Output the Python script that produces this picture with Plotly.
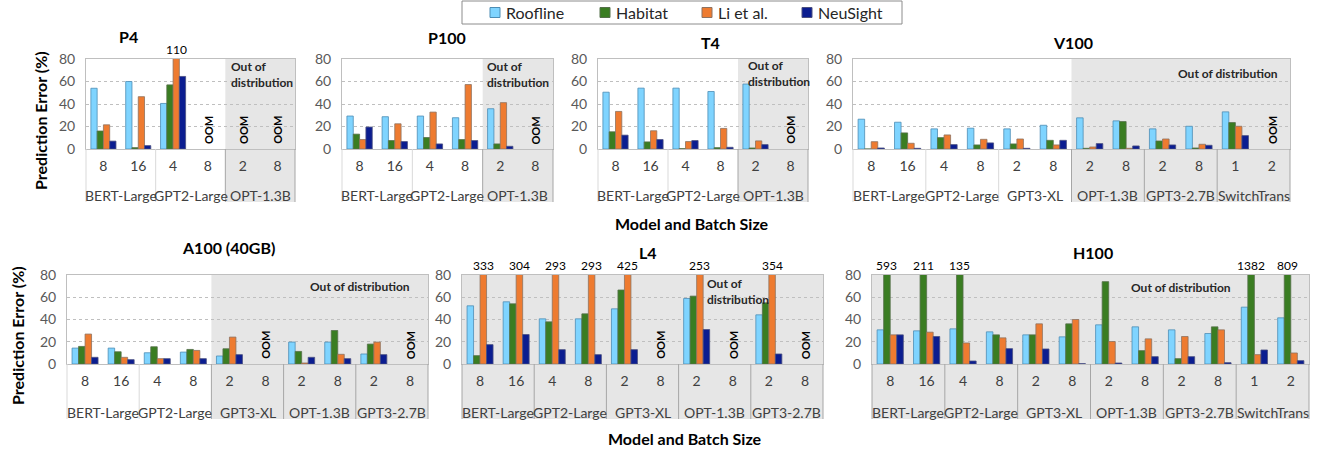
import plotly.graph_objects as go

W, H = 1322, 450
FONT = "Lato"

SERIES = ["Roofline", "Habitat", "Li et al.", "NeuSight"]
COLORS = ["#7FD4FF", "#3A7D22", "#EE7B30", "#0B1D90"]
EDGES = ["#4C8DB5", "#55704A", "#8E7260", "#4A4F80"]

# ---------------- data ----------------
p4_models = ["BERT-Large", "BERT-Large", "GPT2-Large", "GPT2-Large", "OPT-1.3B", "OPT-1.3B"]
p4_batches = ["8", "16", "4", "8", "2", "8"]
p4_roofline = [54, 60, 40.5, None, None, None]
p4_habitat = [16, 1.2, 57, None, None, None]
p4_li = [21.5, 46.5, 110, None, None, None]
p4_neusight = [7, 3, 64.5, None, None, None]

p100_models = ["BERT-Large", "BERT-Large", "GPT2-Large", "GPT2-Large", "OPT-1.3B", "OPT-1.3B"]
p100_batches = ["8", "16", "4", "8", "2", "8"]
p100_roofline = [29.3, 28.7, 29.3, 27.8, 35.8, None]
p100_habitat = [13.2, 7.5, 10.2, 8.4, 4.5, None]
p100_li = [8.4, 22.4, 32.8, 57.3, 41.2, None]
p100_neusight = [19.5, 6.6, 4.5, 7.5, 2.4, None]

t4_models = ["BERT-Large", "BERT-Large", "GPT2-Large", "GPT2-Large", "OPT-1.3B", "OPT-1.3B"]
t4_batches = ["8", "16", "4", "8", "2", "8"]
t4_roofline = [50.5, 54.1, 54.1, 51.1, 57.7, None]
t4_habitat = [15.3, 6.3, 0.3, 1.2, 0.9, None]
t4_li = [33.4, 16.2, 6.6, 18.3, 7.2, None]
t4_neusight = [12.3, 8.4, 7.5, 1.5, 3.9, None]

v100_models = ["BERT-Large", "BERT-Large", "GPT2-Large", "GPT2-Large", "GPT3-XL", "GPT3-XL",
               "OPT-1.3B", "OPT-1.3B", "GPT3-2.7B", "GPT3-2.7B", "SwitchTrans", "SwitchTrans"]
v100_batches = ["8", "16", "4", "8", "2", "8", "2", "8", "2", "8", "1", "2"]
v100_roofline = [26.5, 23.8, 17.9, 18.5, 17.9, 21.1, 27.7, 25.0, 17.9, 20.2, 33.0, None]
v100_habitat = [0, 14.3, 10.1, 3.6, 4.5, 7.7, 0.6, 24.4, 7.1, 0.9, 23.5, None]
v100_li = [6.5, 5.1, 12.5, 8.6, 8.9, 3.6, 1.8, 0.6, 8.9, 4.2, 20.2, None]
v100_neusight = [0.9, 0.6, 3.9, 5.4, 0.6, 7.7, 4.8, 2.7, 3.6, 3.3, 11.9, None]

a100_models = ["BERT-Large", "BERT-Large", "GPT2-Large", "GPT2-Large", "GPT3-XL", "GPT3-XL",
               "OPT-1.3B", "OPT-1.3B", "GPT3-2.7B", "GPT3-2.7B"]
a100_batches = ["8", "16", "4", "8", "2", "8", "2", "8", "2", "8"]
a100_roofline = [14.3, 14.3, 10.1, 10.7, 7.2, None, 19.7, 19.7, 9.0, None]
a100_habitat = [15.8, 11.0, 15.5, 13.1, 13.7, None, 11.3, 30.1, 17.9, None]
a100_li = [26.9, 6.0, 4.8, 12.2, 24.2, None, 0.9, 8.7, 19.7, None]
a100_neusight = [6.0, 3.9, 4.8, 4.8, 8.4, None, 6.0, 4.8, 8.4, None]

l4_models = ["BERT-Large", "BERT-Large", "GPT2-Large", "GPT2-Large", "GPT3-XL", "GPT3-XL",
             "OPT-1.3B", "OPT-1.3B", "GPT3-2.7B", "GPT3-2.7B"]
l4_batches = ["8", "16", "4", "8", "2", "8", "2", "8", "2", "8"]
l4_roofline = [52.3, 55.9, 40.6, 40.6, 49.6, None, 58.9, None, 44.2, None]
l4_habitat = [7.5, 54.1, 37.9, 45.1, 66.5, None, 61.0, None, 55.0, None]
l4_li = [333, 304, 293, 293, 425, None, 253, None, 354, None]
l4_neusight = [17.4, 26.5, 12.9, 8.4, 12.9, None, 31.0, None, 9.0, None]

h100_models = ["BERT-Large", "BERT-Large", "GPT2-Large", "GPT2-Large", "GPT3-XL", "GPT3-XL",
               "OPT-1.3B", "OPT-1.3B", "GPT3-2.7B", "GPT3-2.7B", "SwitchTrans", "SwitchTrans"]
h100_batches = ["8", "16", "4", "8", "2", "8", "2", "8", "2", "8", "1", "2"]
h100_roofline = [30.7, 29.8, 31.6, 28.9, 26.2, 24.4, 35.2, 33.4, 30.7, 27.4, 51.1, 41.5]
h100_habitat = [593, 211, 135, 26.2, 26.2, 36.1, 74.0, 12.0, 4.8, 33.4, 1382, 809]
h100_li = [26.2, 28.6, 18.9, 23.5, 36.1, 40.0, 20.2, 22.6, 24.7, 30.7, 8.4, 9.9]
h100_neusight = [26.2, 24.7, 2.7, 13.8, 13.5, 0.3, 0.9, 6.6, 6.6, 1.2, 12.6, 3.0]

Y_MAX = 80
Y_TICKS = [0, 20, 40, 60, 80]

# ---------------- layout specs ----------------
ROWS = [
    dict(top=59, bot=149, cat_bot=202, model_y=196),
    dict(top=275, bot=364, cat_bot=419, model_y=412),
]

panels = [
    dict(title="P4", models=p4_models, batches=p4_batches,
         vals=[p4_roofline, p4_habitat, p4_li, p4_neusight], ood=4,
         x0=86, x1=295, row=0, tpos=(128, 37),
         otext="Out of<br>distribution", opos=(229, 75), oanchor="left"),
    dict(title="P100", models=p100_models, batches=p100_batches,
         vals=[p100_roofline, p100_habitat, p100_li, p100_neusight], ood=4,
         x0=342, x1=553, row=0, tpos=(447, 38),
         otext="Out of<br>distribution", opos=(485, 75), oanchor="left"),
    dict(title="T4", models=t4_models, batches=t4_batches,
         vals=[t4_roofline, t4_habitat, t4_li, t4_neusight], ood=4,
         x0=598, x1=808, row=0, tpos=(710, 42),
         otext="Out of<br>distribution", opos=(746, 73), oanchor="left"),
    dict(title="V100", models=v100_models, batches=v100_batches,
         vals=[v100_roofline, v100_habitat, v100_li, v100_neusight], ood=6,
         x0=853, x1=1290, row=0, tpos=(1073, 42),
         otext="Out of distribution", opos=(1280, 73), oanchor="right"),
    dict(title="A100 (40GB)", models=a100_models, batches=a100_batches,
         vals=[a100_roofline, a100_habitat, a100_li, a100_neusight], ood=4,
         x0=67, x1=428, row=1, tpos=(228, 247),
         otext="Out of distribution", opos=(412, 286), oanchor="right"),
    dict(title="L4", models=l4_models, batches=l4_batches,
         vals=[l4_roofline, l4_habitat, l4_li, l4_neusight], ood=0,
         x0=462, x1=823, row=1, tpos=(648, 252),
         otext="Out of<br>distribution", opos=(705, 291), oanchor="left"),
    dict(title="H100", models=h100_models, batches=h100_batches,
         vals=[h100_roofline, h100_habitat, h100_li, h100_neusight], ood=0,
         x0=872, x1=1309, row=1, tpos=(1093, 252),
         otext="Out of distribution", opos=(1233, 287), oanchor="right"),
]

BARGAP = 0.28
SHADE = "#E6E6E6"
LEGEND_BOX = (462, 902, 1, 24)
LEGEND_SWATCH_X = [490, 600, 702, 802]


def px(x):
    return x / W


def py(y):
    return 1 - y / H


fig = go.Figure()
annotations = []
shapes = []
layout_axes = {}

for pi, p in enumerate(panels):
    k = pi + 1
    xs = "" if k == 1 else str(k)
    xname, yname = "x" + xs, "y" + xs
    row = ROWS[p["row"]]
    n = len(p["batches"])
    pos = list(range(n))
    plot_h = row["bot"] - row["top"]
    cat_frac = (row["cat_bot"] - row["bot"]) / plot_h

    for si, sname in enumerate(SERIES):
        fig.add_trace(go.Bar(
            x=pos, y=p["vals"][si], name=sname, xaxis=xname, yaxis=yname,
            marker=dict(color=COLORS[si], line=dict(color=EDGES[si], width=0.8)),
            showlegend=False, legendgroup=sname, hoverinfo="skip",
        ))

    layout_axes["xaxis" + xs] = dict(
        domain=[px(p["x0"]), px(p["x1"])], anchor=yname,
        range=[-0.5, n - 0.5], tickmode="array", tickvals=pos, ticktext=p["batches"],
        showgrid=False, zeroline=False, ticks="", showline=True, mirror=True,
        linecolor="#BFBFBF", linewidth=1, ticklabelstandoff=4, automargin=False,
        tickfont=dict(family=FONT, size=14, color="#404040"), fixedrange=True,
    )
    layout_axes["yaxis" + xs] = dict(
        domain=[py(row["bot"]), py(row["top"])], anchor=xname,
        range=[0, Y_MAX], tickmode="array", tickvals=Y_TICKS,
        showgrid=True, gridcolor="#BFBFBF", griddash="dot", gridwidth=1,
        zeroline=False, ticks="", showline=True, mirror=True,
        linecolor="#BFBFBF", linewidth=1, ticklabelstandoff=7, automargin=False,
        tickfont=dict(family=FONT, size=14, color="#595959"), fixedrange=True,
    )

    xd, yd = xname + " domain", yname + " domain"

    # out-of-distribution shading
    shapes.append(dict(type="rect", xref=xd, yref=yd, x0=p["ood"] / n, x1=1,
                       y0=-cat_frac, y1=1, fillcolor=SHADE, line=dict(width=0),
                       layer="below"))

    # group dividers + model labels
    bounds = [0] + [i for i in range(1, n) if p["models"][i] != p["models"][i - 1]] + [n]
    for b in bounds:
        col = "#A6A6A6" if b >= p["ood"] and p["ood"] < n else "#D9D9D9"
        shapes.append(dict(type="line", xref=xd, yref=yd, x0=b / n, x1=b / n,
                           y0=0, y1=-cat_frac, line=dict(color=col, width=1)))
    for a, b in zip(bounds[:-1], bounds[1:]):
        annotations.append(dict(
            x=(a + b - 1) / 2, xref=xname, y=py(row["model_y"]), yref="paper",
            text=p["models"][a], showarrow=False, xanchor="center", yanchor="middle",
            font=dict(family=FONT, size=14, color="#404040")))

    # OOM markers and clipped-value labels
    bw = (1 - BARGAP) / len(SERIES)
    for i in range(n):
        if all(v[i] is None for v in p["vals"]):
            annotations.append(dict(
                x=i, xref=xname, y=2.5, yref=yname, text="<b>OOM</b>", textangle=-90,
                showarrow=False, xanchor="center", yanchor="bottom",
                font=dict(family=FONT, size=11, color="#000000")))
        for si in range(len(SERIES)):
            v = p["vals"][si][i]
            if v is not None and v > Y_MAX:
                annotations.append(dict(
                    x=i + (si - (len(SERIES) - 1) / 2) * bw, xref=xname,
                    y=1, yref=yd, text=str(v), showarrow=False,
                    xanchor="center", yanchor="bottom", yshift=0,
                    font=dict(family=FONT, size=12, color="#000000")))

    # panel title
    annotations.append(dict(
        x=px(p["tpos"][0]), y=py(p["tpos"][1]), xref="paper", yref="paper",
        text="<b>" + p["title"] + "</b>", showarrow=False,
        xanchor="center", yanchor="middle",
        font=dict(family=FONT, size=16, color="#000000")))
    # out of distribution label
    annotations.append(dict(
        x=px(p["opos"][0]), y=py(p["opos"][1]), xref="paper", yref="paper",
        text="<b>" + p["otext"] + "</b>", showarrow=False, align="left",
        xanchor=p["oanchor"], yanchor="middle",
        font=dict(family=FONT, size=12, color="#262626")))

# axis titles
for (tx, ty) in [(40, 121), (17, 336)]:
    annotations.append(dict(
        x=px(tx), y=py(ty), xref="paper", yref="paper",
        text="<b>Prediction Error (%)</b>", textangle=-90, showarrow=False,
        xanchor="center", yanchor="middle",
        font=dict(family=FONT, size=16, color="#000000")))
for (tx, ty) in [(692, 223), (685, 438)]:
    annotations.append(dict(
        x=px(tx), y=py(ty), xref="paper", yref="paper",
        text="<b>Model and Batch Size</b>", showarrow=False,
        xanchor="center", yanchor="middle",
        font=dict(family=FONT, size=16, color="#000000")))

# legend (drawn as shapes + text)
lx0, lx1, ly0, ly1 = LEGEND_BOX
shapes.append(dict(type="rect", xref="paper", yref="paper", x0=px(lx0), x1=px(lx1),
                   y0=py(ly1), y1=py(ly0), fillcolor="white",
                   line=dict(color="#8C8C8C", width=1)))
ly_mid = (ly0 + ly1) / 2
for si, sname in enumerate(SERIES):
    sx = LEGEND_SWATCH_X[si]
    shapes.append(dict(type="rect", xref="paper", yref="paper",
                       x0=px(sx), x1=px(sx + 10), y0=py(ly_mid + 5), y1=py(ly_mid - 5),
                       fillcolor=COLORS[si], line=dict(color=EDGES[si], width=1)))
    annotations.append(dict(
        x=px(sx + 14), y=py(ly_mid), xref="paper", yref="paper", text=sname,
        showarrow=False, xanchor="left", yanchor="middle",
        font=dict(family=FONT, size=16, color="#262626")))

fig.update_layout(
    width=W, height=H, autosize=False,
    margin=dict(l=0, r=0, t=0, b=0, autoexpand=False),
    paper_bgcolor="white", plot_bgcolor="rgba(0,0,0,0)",
    barmode="group", bargap=BARGAP, bargroupgap=0,
    font=dict(family=FONT, size=14, color="#404040"),
    showlegend=False, hovermode=False,
    annotations=annotations, shapes=shapes,
    **layout_axes,
)

fig.write_html("out.html",
               config={"displayModeBar": False, "staticPlot": True},
               post_script="document.body.style.margin='0px';"
                           "document.body.style.overflow='hidden';")
